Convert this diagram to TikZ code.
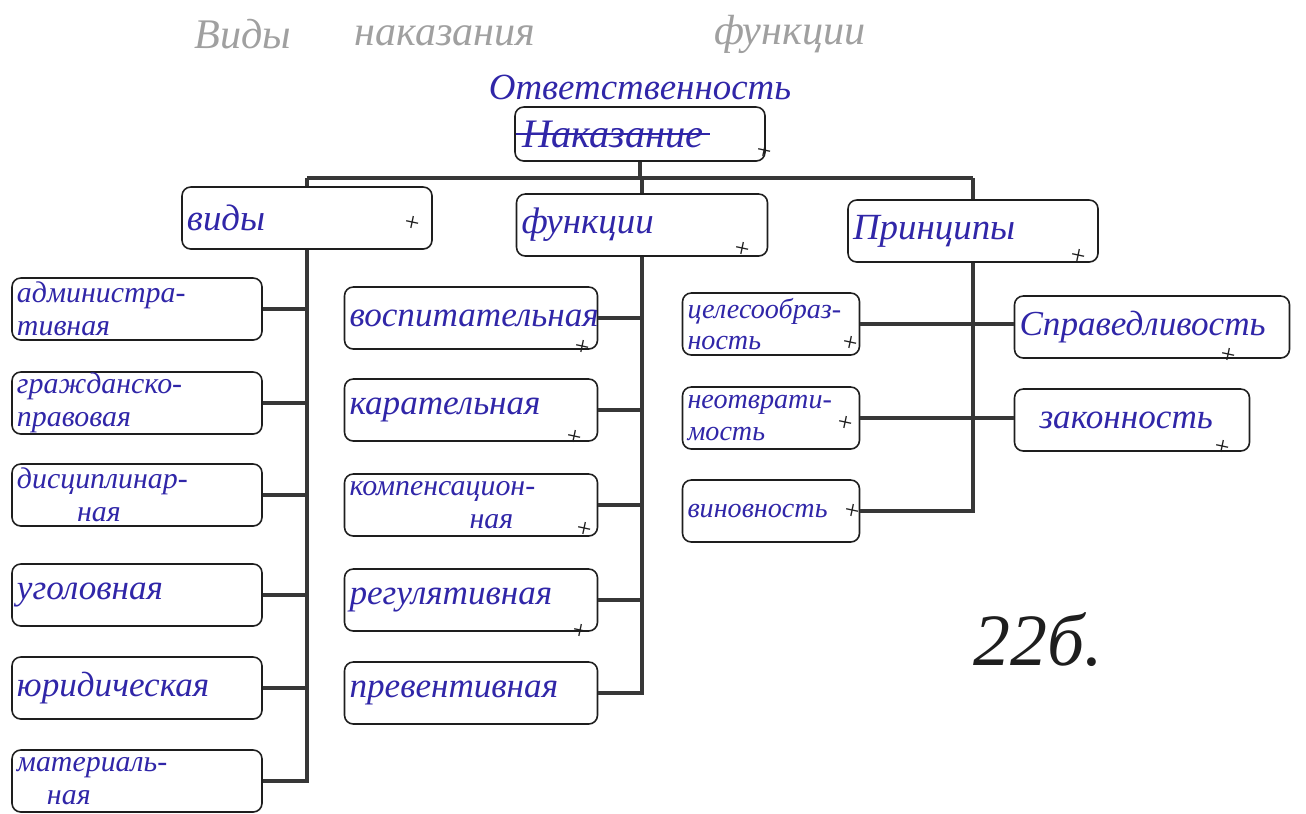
\documentclass[tikz,border=0pt]{standalone}
\usepackage{fontspec}
\setmainfont{Liberation Serif}
\usetikzlibrary{positioning,calc}
\definecolor{inkblue}{RGB}{48,38,168}
\definecolor{framegray}{RGB}{30,30,30}
\definecolor{linkgray}{RGB}{55,55,55}
\definecolor{pencilgray}{RGB}{160,160,160}
\tikzset{
  box/.style={draw=framegray,line width=0.9pt,rounded corners=5pt,fill=white,
    text=inkblue,font=\fontsize{20}{20}\selectfont\itshape,align=left,
    inner xsep=1mm,inner ysep=0pt,minimum height=1.24cm},
  twoline/.style={font=\fontsize{17}{18.5}\selectfont\itshape},
  inktext/.style={text=inkblue,font=\fontsize{21}{21}\selectfont\itshape},
  pencil/.style={text=pencilgray,font=\fontsize{24}{24}\selectfont\itshape},
  link/.style={draw=linkgray,line width=2.6pt},
  plusmark/.style={text=framegray,font=\fontsize{15}{15}\selectfont,rotate=-12},
}
\begin{document}
\begin{tikzpicture}[x=0.2mm,y=-0.2mm]
\useasboundingbox (0,0) rectangle (1306,813);
% faint pencil heading
\node[pencil] (t1) at (243,34) {Виды};
\node[pencil] (t2) at (445,36) {наказания};
\node[pencil] (t3) at (790,34) {функции};
% root
\node[inktext] (resp) at (640,87) {Ответственность};
\node[box,minimum width=5cm,minimum height=1.08cm] (top) at (640,134) {};
\node[inktext,font=\fontsize{23}{23}\selectfont\itshape,right=1pt of top.west] (naz) {Наказание};
\draw[inkblue,line width=0.8pt] (naz.west) -- (naz.east);
% first level
\node[box,text width=4.8cm,font=\fontsize{21}{21}\selectfont\itshape] (vid) at (307,218) {виды};
\node[box,text width=4.82cm,font=\fontsize{21}{21}\selectfont\itshape] (fun) at (642,225) {функции};
\node[box,text width=4.8cm,font=\fontsize{21}{21}\selectfont\itshape] (prin) at (973,231) {Принципы};
% kinds
\foreach \n/\y/\t/\s in {a1/309/{администра-\\тивная}/twoline,a2/403/{гражданско-\\правовая}/twoline,
                      a3/495/{дисциплинар-\\\hspace*{1.2cm}ная}/twoline,a4/595/уголовная/box,
                      a5/688/юридическая/box,a6/781/{материаль-\\\hspace*{0.6cm}ная}/twoline}
  \node[box,\s,text width=4.8cm] (\n) at (137,\y) {\t};
% functions
\foreach \n/\y/\t/\s in {f1/318/воспитательная/box,f2/410/карательная/box,
                      f3/505/{компенсацион-\\\hspace*{2.4cm}ная}/twoline,
                      f4/600/регулятивная/box,f5/693/превентивная/box}
  \node[box,\s,text width=4.86cm] (\n) at (471,\y) {\t};
% principles
\foreach \n/\y/\t in {p1/324/{целесообраз-\\ность},p2/418/{неотврати-\\мость},
                      p3/511/виновность}
  \node[box,twoline,text width=3.34cm,font=\fontsize{16}{18}\selectfont\itshape] (\n) at (771,\y) {\t};
\node[box,text width=5.3cm] (q1) at (1152,327) {Справедливость};
\node[box,text width=4.5cm] (q2) at (1132,420) {\hspace*{0.4cm}законность};
% connectors
\coordinate (bar) at (640,178);
\draw[link] (top.south) -- (top.south|-bar);
\draw[link] (vid.north|-bar) -- (prin.north|-bar);
\foreach \n in {vid,fun,prin}
  \draw[link] (\n.north|-bar) -- (\n.north);
\draw[link] (vid.south) |- (a6.east);
\foreach \k in {1,...,5}
  \draw[link] (a\k.east) -- (a\k.east-|vid.south);
\draw[link] (fun.south) |- (f5.east);
\foreach \k in {1,...,4}
  \draw[link] (f\k.east) -- (f\k.east-|fun.south);
\draw[link] (prin.south) |- (p3.east);
\draw[link] (p1.east) -- (p1.east-|q1.west);
\draw[link] (p2.east) -- (p2.east-|q2.west);
% teacher's marks
\foreach \x/\y [count=\i] in {764/152,412/224,742/250,1078/257,582/348,574/438,
                              584/530,580/632,850/344,845/424,852/512,1228/356,1222/448}
  \node[plusmark] (m\i) at (\x,\y) {+};
\node[font=\fontsize{42}{42}\selectfont\itshape,text=framegray] (score) at (1038,640) {22б.};
\end{tikzpicture}
\end{document}
